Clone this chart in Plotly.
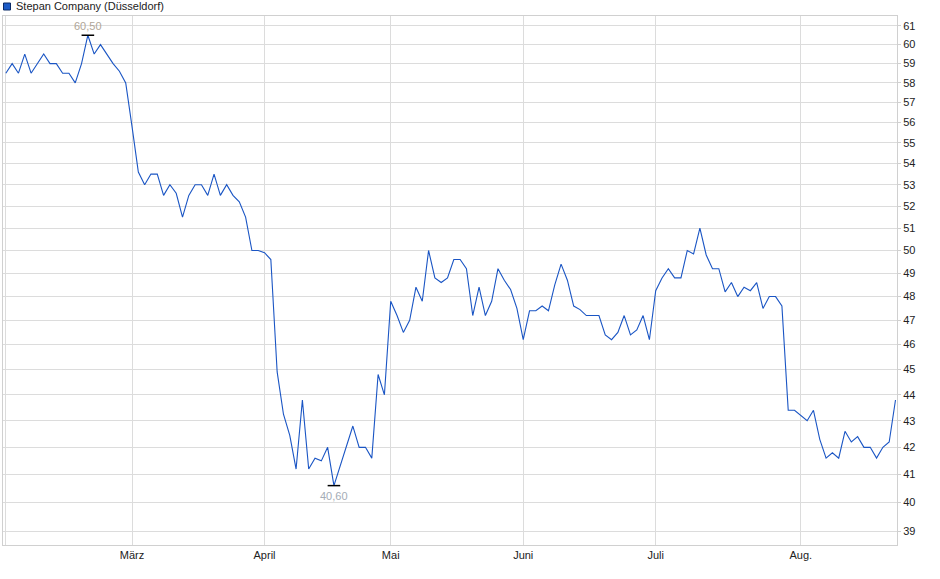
import math
import pandas as pd
import plotly.graph_objects as go

# daily closes, Stepan Company (Düsseldorf), Feb 3 - Aug 22 2025 (trading days)
HOLIDAYS = ["2025-04-18", "2025-04-21", "2025-05-01"]
CLOSE = [
    58.5, 59.0, 58.5, 59.5, 58.5, 59.0, 59.5, 59.0, 59.0, 58.5,
    58.5, 58.0, 59.0, 60.5, 59.5, 60.0, 59.5, 59.0, 58.6, 58.0,
    55.8, 53.6, 53.0, 53.5, 53.5, 52.5, 53.0, 52.6, 51.5, 52.5,
    53.0, 53.0, 52.5, 53.5, 52.5, 53.0, 52.5, 52.2, 51.5, 50.0,
    50.0, 49.9, 49.6, 44.9, 43.25, 42.45, 41.2, 43.8, 41.2, 41.6,
    41.5, 42.0, 40.6, 41.3, 42.0, 42.8, 42.0, 42.0, 41.6, 44.8,
    44.0, 47.8, 47.2, 46.5, 47.0, 48.4, 47.8, 50.0, 48.8, 48.6,
    48.8, 49.6, 49.6, 49.2, 47.2, 48.4, 47.2, 47.8, 49.2, 48.7,
    48.3, 47.5, 46.2, 47.4, 47.4, 47.6, 47.4, 48.5, 49.4, 48.7,
    47.6, 47.45, 47.2, 47.2, 47.2, 46.4, 46.2, 46.5, 47.2, 46.4,
    46.6, 47.2, 46.2, 48.25, 48.8, 49.2, 48.8, 48.8, 50.0, 49.85,
    51.0, 49.8, 49.2, 49.2, 48.2, 48.6, 48.0, 48.4, 48.25, 48.6,
    47.5, 48.0, 48.0, 47.6, 43.4, 43.4, 43.2, 43.0, 43.4, 42.3,
    41.6, 41.8, 41.6, 42.6, 42.2, 42.4, 42.0, 42.0, 41.6, 42.0,
    42.2, 43.8,
]
MONTH_TICKS = ["2025-02-03", "2025-03-03", "2025-04-01", "2025-05-02",
               "2025-06-02", "2025-07-01", "2025-08-01"]
MONTH_LABELS = ["", "März", "April", "Mai", "Juni", "Juli", "Aug."]
Y_TICKS = list(range(39, 62))

dates = pd.bdate_range("2025-02-03", "2025-08-22", freq="C",
                       holidays=HOLIDAYS).strftime("%Y-%m-%d").tolist()

hi = CLOSE.index(max(CLOSE))
lo = CLOSE.index(min(CLOSE))

GRID = "#dcdcdc"
FONT = "Liberation Sans, Arial, sans-serif"

fig = go.Figure()
fig.add_trace(go.Scatter(x=dates, y=CLOSE, mode="lines",
                         line=dict(color="#1a55c4", width=1.1)))
# high / low markers
fig.add_trace(go.Scatter(
    x=[dates[hi], dates[lo]], y=[CLOSE[hi], CLOSE[lo]], mode="markers",
    marker=dict(symbol="line-ew", size=9, color="black",
                line=dict(color="black", width=1.5))))
for idx, shift, col in [(hi, 9, "#b0a698"), (lo, -10, "#a4acb6")]:
    fig.add_annotation(x=dates[idx], y=math.log10(CLOSE[idx]),
                       text=f"{CLOSE[idx]:.2f}".replace(".", ","),
                       showarrow=False, yanchor="middle", yshift=shift,
                       font=dict(size=11, color=col, family=FONT))

fig.update_layout(
    width=940, height=579,
    margin=dict(l=3, r=43, t=16, b=34),
    showlegend=False,
    plot_bgcolor="white", paper_bgcolor="white",
    font=dict(family=FONT, size=11, color="#222222"),
    xaxis=dict(type="category", range=[-0.45, 141.24],
               tickvals=MONTH_TICKS, ticktext=MONTH_LABELS,
               showgrid=True, gridcolor=GRID, gridwidth=1,
               showline=True, linecolor="#d0d0d0", mirror=True,
               ticks="", tickfont=dict(size=11, color="#222222")),
    yaxis=dict(type="log", side="right",
               range=[math.log10(38.52), math.log10(61.54)],
               tickvals=Y_TICKS, ticktext=[str(v) for v in Y_TICKS],
               showgrid=True, gridcolor=GRID, gridwidth=1,
               showline=True, linecolor="#d0d0d0", mirror=True,
               ticks="outside", ticklen=3, tickcolor="#d0d0d0",
               zeroline=False, tickfont=dict(size=11, color="#222222")),
)

# legend box + title
fig.add_shape(type="rect", xref="paper", yref="paper",
              xsizemode="pixel", ysizemode="pixel", xanchor=0, yanchor=1,
              x0=0.5, x1=7.5, y0=6, y1=13,
              fillcolor="#1d5bc6", line=dict(color="#0b2a66", width=1))
fig.add_annotation(text="Stepan Company (Düsseldorf)", xref="paper", yref="paper",
                   x=0.0125, y=1.0185, xanchor="left", yanchor="middle",
                   showarrow=False, font=dict(size=11, color="#222222", family=FONT))

fig.write_html("out.html", config={"displayModeBar": False},
               post_script="document.body.style.margin='0px';")
